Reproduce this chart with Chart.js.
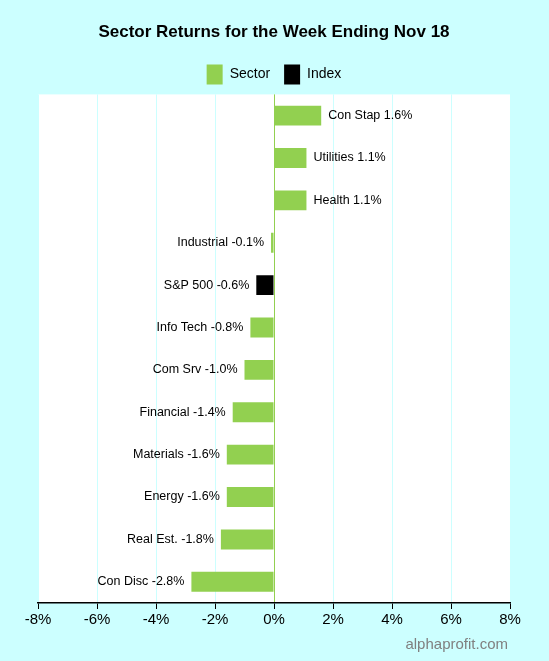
<!DOCTYPE html>
<html><head><meta charset="utf-8">
<script src="https://cdn.jsdelivr.net/npm/chart.js@4"></script>
<style>html,body{margin:0;padding:0;background:#ccffff;}#wrap{width:549px;height:661px;}</style>
</head><body><div id="wrap"><canvas id="c"></canvas></div>
<script>
const categories = ["Con Stap","Utilities","Health","Industrial","S&P 500","Info Tech","Com Srv","Financial","Materials","Energy","Real Est.","Con Disc"];
const values = [1.6,1.1,1.1,-0.1,-0.6,-0.8,-1.0,-1.4,-1.6,-1.6,-1.8,-2.8];
const isIndex = [false,false,false,false,true,false,false,false,false,false,false,false];
const xTicks = [-8,-6,-4,-2,0,2,4,6,8];
const GREEN = '#92d050', BG = '#ccffff';

const plotBg = {id:'plotBg', beforeDraw(ch){const a=ch.chartArea,c=ch.ctx;c.save();c.fillStyle='#fff';c.fillRect(a.left,a.top,a.right-a.left,a.bottom-a.top);c.restore();}};
const labels = {id:'labels', afterDatasetsDraw(ch){
  const c=ch.ctx, meta=ch.getDatasetMeta(0), xs=ch.scales.x;
  c.save(); c.font='12.5px "Liberation Sans", Arial'; c.fillStyle='#000'; c.textBaseline='middle';
  meta.data.forEach((b,i)=>{const v=values[i];const t=categories[i]+' '+v.toFixed(1)+'%';
    if(v>=0){c.textAlign='left';c.fillText(t,xs.getPixelForValue(v)+7,b.y);}
    else{c.textAlign='right';c.fillText(t,xs.getPixelForValue(v)-7,b.y);}});
  c.font='15px "Liberation Sans", Arial'; c.fillStyle='#808080'; c.textAlign='right';
  c.fillText('alphaprofit.com', 508, 645);
  c.restore();}};

new Chart(document.getElementById('c'), {
  type:'bar',
  data:{labels:categories, datasets:[{data:values, backgroundColor:isIndex.map(f=>f?'#000':GREEN), barPercentage:0.47, categoryPercentage:1}]},
  options:{indexAxis:'y', responsive:true, maintainAspectRatio:false, animation:false,
    layout:{padding:{left:38,right:39,top:0,bottom:0}},
    scales:{
      x:{min:-8,max:8, afterBuildTicks(s){s.ticks=xTicks.map(v=>({value:v}));},
        afterFit(s){s.height=58;},
        ticks:{callback:v=>v+'%', color:'#000', font:{family:'"Liberation Sans", Arial', size:15}, padding:2, maxRotation:0},
        grid:{color:ctx=>ctx.tick&&ctx.tick.value===0?GREEN:'#ccffff', tickColor:'#000', tickLength:6, lineWidth:1},
        border:{color:'#000', width:1.5}},
      y:{display:false}
    },
    plugins:{
      title:{display:true, text:'Sector Returns for the Week Ending Nov 18', color:'#000', font:{family:'"Liberation Sans", Arial', size:17, weight:'bold'}, padding:{top:22,bottom:8}},
      legend:{display:true, labels:{color:'#000', font:{family:'"Liberation Sans", Arial', size:14}, boxWidth:16, boxHeight:20, padding:14,
        generateLabels:()=>[{text:'Sector',fillStyle:GREEN,strokeStyle:GREEN,lineWidth:0},{text:'Index',fillStyle:'#000',strokeStyle:'#000',lineWidth:0}]}, onClick:null},
      tooltip:{enabled:false}
    }
  },
  plugins:[plotBg,labels]
});
</script></body></html>
